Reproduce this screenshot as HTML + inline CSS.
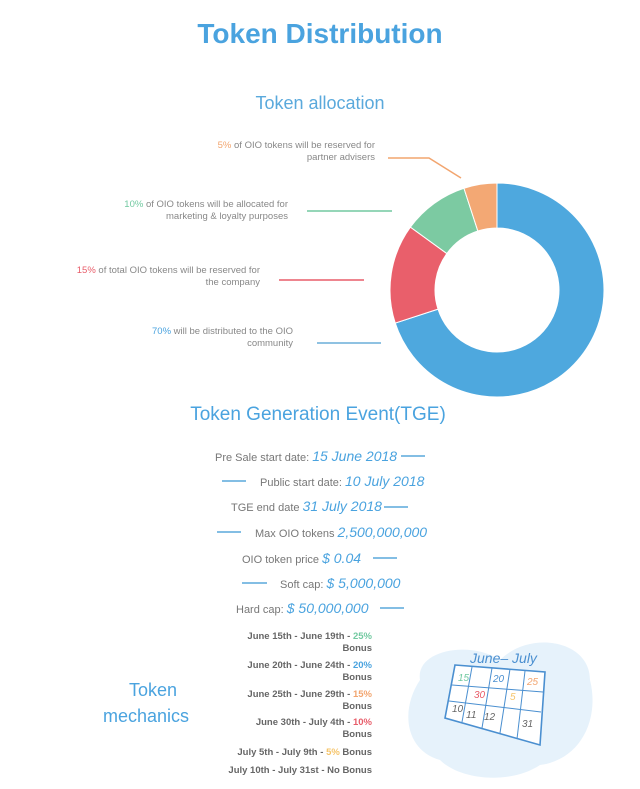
<!DOCTYPE html>
<html><head><meta charset="utf-8">
<style>
html,body{margin:0;padding:0;background:#fff;}
svg{display:block;font-family:"Liberation Sans",sans-serif;}
</style></head>
<body>
<svg id="chart" width="640" height="789" viewBox="0 0 640 789">
  <text x="320" y="43" text-anchor="middle" font-size="28" font-weight="bold" fill="#4aa3df">Token Distribution</text>
  <text x="320" y="109" text-anchor="middle" font-size="18" fill="#5aa9dc">Token allocation</text>

  <g id="donut"></g>

  <g font-size="9.5" fill="#888" text-anchor="end">
    <text x="375" y="148"><tspan fill="#f2a56f">5%</tspan> of OIO tokens will be reserved for</text>
    <text x="375" y="160">partner advisers</text>
    <text x="288" y="207"><tspan fill="#72c9a1">10%</tspan> of OIO tokens will be allocated for</text>
    <text x="288" y="219">marketing &amp; loyalty purposes</text>
    <text x="260" y="273"><tspan fill="#e85d6a">15%</tspan> of total OIO tokens will be reserved for</text>
    <text x="260" y="285">the company</text>
    <text x="293" y="334"><tspan fill="#4aa3df">70%</tspan> will be distributed to the OIO</text>
    <text x="293" y="346">community</text>
  </g>
  <g fill="none" stroke-width="1.5">
    <polyline points="388,158 429,158 461,178" stroke="#f2a56f"/>
    <line x1="307" y1="211" x2="392" y2="211" stroke="#72c9a1"/>
    <line x1="279" y1="280" x2="364" y2="280" stroke="#e85d6a"/>
    <line x1="317" y1="343" x2="381" y2="343" stroke="#6aaed8"/>
  </g>

  <text x="318" y="420" text-anchor="middle" font-size="19" fill="#4aa3df">Token Generation Event(TGE)</text>
  <g font-size="11" fill="#777">
    <text x="215" y="461">Pre Sale start date: <tspan font-size="14" font-style="italic" fill="#4aa3df">15 June 2018</tspan></text>
    <text x="260" y="486">Public start date: <tspan font-size="14" font-style="italic" fill="#4aa3df">10 July 2018</tspan></text>
    <text x="231" y="511">TGE end date <tspan font-size="14" font-style="italic" fill="#4aa3df">31 July 2018</tspan></text>
    <text x="255" y="537">Max OIO tokens <tspan font-size="14" font-style="italic" fill="#4aa3df">2,500,000,000</tspan></text>
    <text x="242" y="563">OIO token price <tspan font-size="14" font-style="italic" fill="#4aa3df">$ 0.04</tspan></text>
    <text x="280" y="588">Soft cap: <tspan font-size="14" font-style="italic" fill="#4aa3df">$ 5,000,000</tspan></text>
    <text x="236" y="613">Hard cap: <tspan font-size="14" font-style="italic" fill="#4aa3df">$ 50,000,000</tspan></text>
  </g>
  <g stroke="#5aa9dc" stroke-width="1.5">
    <line x1="401" y1="456" x2="425" y2="456"/>
    <line x1="222" y1="481" x2="246" y2="481"/>
    <line x1="384" y1="507" x2="408" y2="507"/>
    <line x1="217" y1="532" x2="241" y2="532"/>
    <line x1="373" y1="558" x2="397" y2="558"/>
    <line x1="242" y1="583" x2="267" y2="583"/>
    <line x1="380" y1="608" x2="404" y2="608"/>
  </g>

  <text x="153" y="696" text-anchor="middle" font-size="18" fill="#4aa3df">Token</text>
  <text x="146" y="722" text-anchor="middle" font-size="18" fill="#4aa3df">mechanics</text>
  <g font-size="9.5" font-weight="bold" fill="#666" text-anchor="end">
    <text x="372" y="639">June 15th - June 19th - <tspan fill="#72c9a1">25%</tspan></text>
    <text x="372" y="651">Bonus</text>
    <text x="372" y="668">June 20th - June 24th - <tspan fill="#4aa3df">20%</tspan></text>
    <text x="372" y="680">Bonus</text>
    <text x="372" y="697">June 25th - June 29th - <tspan fill="#f2a56f">15%</tspan></text>
    <text x="372" y="709">Bonus</text>
    <text x="372" y="725">June 30th - July 4th - <tspan fill="#e85d6a">10%</tspan></text>
    <text x="372" y="737">Bonus</text>
    <text x="372" y="755">July 5th - July 9th - <tspan fill="#f5c46a">5%</tspan> Bonus</text>
    <text x="372" y="773">July 10th - July 31st - No Bonus</text>
  </g>

  <g>
    <path d="M420,680 C415,650 470,640 500,660 C530,630 590,640 590,680 C600,720 580,760 540,765 C510,785 460,780 440,760 C405,750 400,710 420,680 Z" fill="#e6f2fb"/>
    <text x="470" y="663" font-size="14" font-style="italic" fill="#4a8fd0">June– July</text>
    <polygon points="455,665 545,672 540,745 445,718" fill="#fff" stroke="#4a8fd0" stroke-width="1.6"/>
    <g stroke="#4a8fd0" stroke-width="1">
      <line x1="452" y1="685" x2="543" y2="692"/><line x1="449" y1="701" x2="541" y2="712"/>
      <line x1="472" y1="667" x2="462" y2="722"/><line x1="492" y1="668" x2="482" y2="728"/>
      <line x1="510" y1="669" x2="500" y2="733"/><line x1="525" y1="671" x2="517" y2="739"/>
    </g>
    <g font-size="10" font-style="italic">
      <text x="458" y="681" fill="#72c9a1">15</text><text x="493" y="682" fill="#4a8fd0">20</text><text x="527" y="685" fill="#f2a56f">25</text>
      <text x="474" y="698" fill="#e85d6a">30</text><text x="510" y="700" fill="#f5c46a">5</text>
      <text x="452" y="712" fill="#666">10</text><text x="466" y="718" fill="#666">11</text><text x="484" y="720" fill="#666">12</text><text x="522" y="727" fill="#666">31</text>
    </g>
  </g>
</svg>
<script>
const categories = ["Community", "Company", "Marketing", "Advisers"];
const shares = [70, 15, 10, 5];
const colors = ["#4ea8de", "#e95f6b", "#7ccaa2", "#f3a874"];
const cx = 497, cy = 290, rOuter = 107, rInner = 62;
const g = document.getElementById('donut');
const total = shares.reduce((a, b) => a + b, 0);
function pt(r, a) { return [cx + r * Math.sin(a), cy - r * Math.cos(a)]; }
let acc = 0;
shares.forEach((v, i) => {
  const a0 = acc / total * 2 * Math.PI;
  acc += v;
  const a1 = acc / total * 2 * Math.PI;
  const large = (a1 - a0) > Math.PI ? 1 : 0;
  const p0 = pt(rOuter, a0), p1 = pt(rOuter, a1), p2 = pt(rInner, a1), p3 = pt(rInner, a0);
  const path = document.createElementNS('http://www.w3.org/2000/svg', 'path');
  path.setAttribute('d', `M${p0[0]},${p0[1]} A${rOuter},${rOuter} 0 ${large} 1 ${p1[0]},${p1[1]} L${p2[0]},${p2[1]} A${rInner},${rInner} 0 ${large} 0 ${p3[0]},${p3[1]} Z`);
  path.setAttribute('fill', colors[i]);
  path.setAttribute('stroke', '#fff');
  path.setAttribute('stroke-width', '1');
  
  
  g.appendChild(path);
});
</script>
</body></html>
